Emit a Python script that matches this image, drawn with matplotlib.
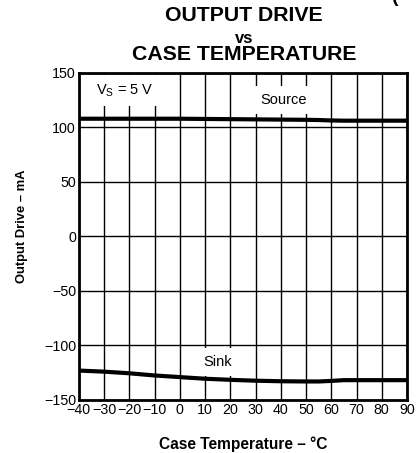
import matplotlib.pyplot as plt

plt.rcParams['font.family'] = ['Liberation Sans', 'DejaVu Sans']

# Output drive vs case temperature, VS = 5 V
temp = [-40, -30, -20, -10, 0, 10, 20, 30, 40, 50, 55, 60, 65, 70, 80, 90]
source_ma = [108, 108, 108, 108, 108, 107.8, 107.6, 107.4, 107.2, 107.0, 106.8, 106.4, 106.2, 106.2, 106.2, 106.2]
sink_ma = [-123, -124, -125.5, -127.5, -129, -130.5, -131.5, -132.3, -132.8, -133, -133, -132.5, -131.8, -131.8, -131.8, -131.8]

x_ticks = list(range(-40, 91, 10))
y_ticks = [-150, -100, -50, 0, 50, 100, 150]

fig = plt.figure(figsize=(4.17, 4.53), dpi=100)
ax = fig.add_axes([0.189, 0.117, 0.787, 0.722])

ax.set_xlim(-40, 90)
ax.set_ylim(-150, 150)
ax.set_xticks(x_ticks)
ax.set_yticks(y_ticks)
ax.set_yticklabels([f'{v}'.replace('-', '\u2212') for v in y_ticks])
ax.set_xticklabels([f'{v}'.replace('-', '\u2212') for v in x_ticks])
ax.tick_params(length=0, labelsize=10.3, pad=2)
ax.grid(True, color='black', lw=1)
ax.set_axisbelow(True)
for s in ax.spines.values():
    s.set_linewidth(2)

ax.plot(temp, source_ma, color='black', lw=3, zorder=3)
ax.plot(temp, sink_ma, color='black', lw=3, zorder=3)

box = dict(facecolor='white', edgecolor='none', pad=5)
ax.text(-33, 134, '$\\mathregular{V_S}$ = 5 V', fontsize=10.5, va='center', ha='left', bbox=box, zorder=4)
ax.text(41, 125, 'Source', fontsize=10.5, va='center', ha='center', bbox=box, zorder=4)
ax.text(15, -115, 'Sink', fontsize=10.5, va='center', ha='center', bbox=box, zorder=4)

ax.set_xlabel('Case Temperature \u2013 \u00b0C', fontsize=11.2, fontweight='bold')
ax.xaxis.set_label_coords(0.5, -0.112)
ax.set_ylabel('Output Drive \u2013 mA', fontsize=9.4, fontweight='bold')
ax.yaxis.set_label_coords(-0.155, 0.532)

fig.text(0.585, 0.965, 'OUTPUT DRIVE', fontsize=15.3, fontweight='bold', ha='center', va='center')
fig.text(0.585, 0.914, 'vs', fontsize=12, fontweight='bold', ha='center', va='center')
fig.text(0.585, 0.879, 'CASE TEMPERATURE', fontsize=15.3, fontweight='bold', ha='center', va='center')
fig.text(0.94, 1.005, '(', fontsize=14, fontweight='bold', ha='left', va='center')

fig.savefig('out.png', dpi=100)
